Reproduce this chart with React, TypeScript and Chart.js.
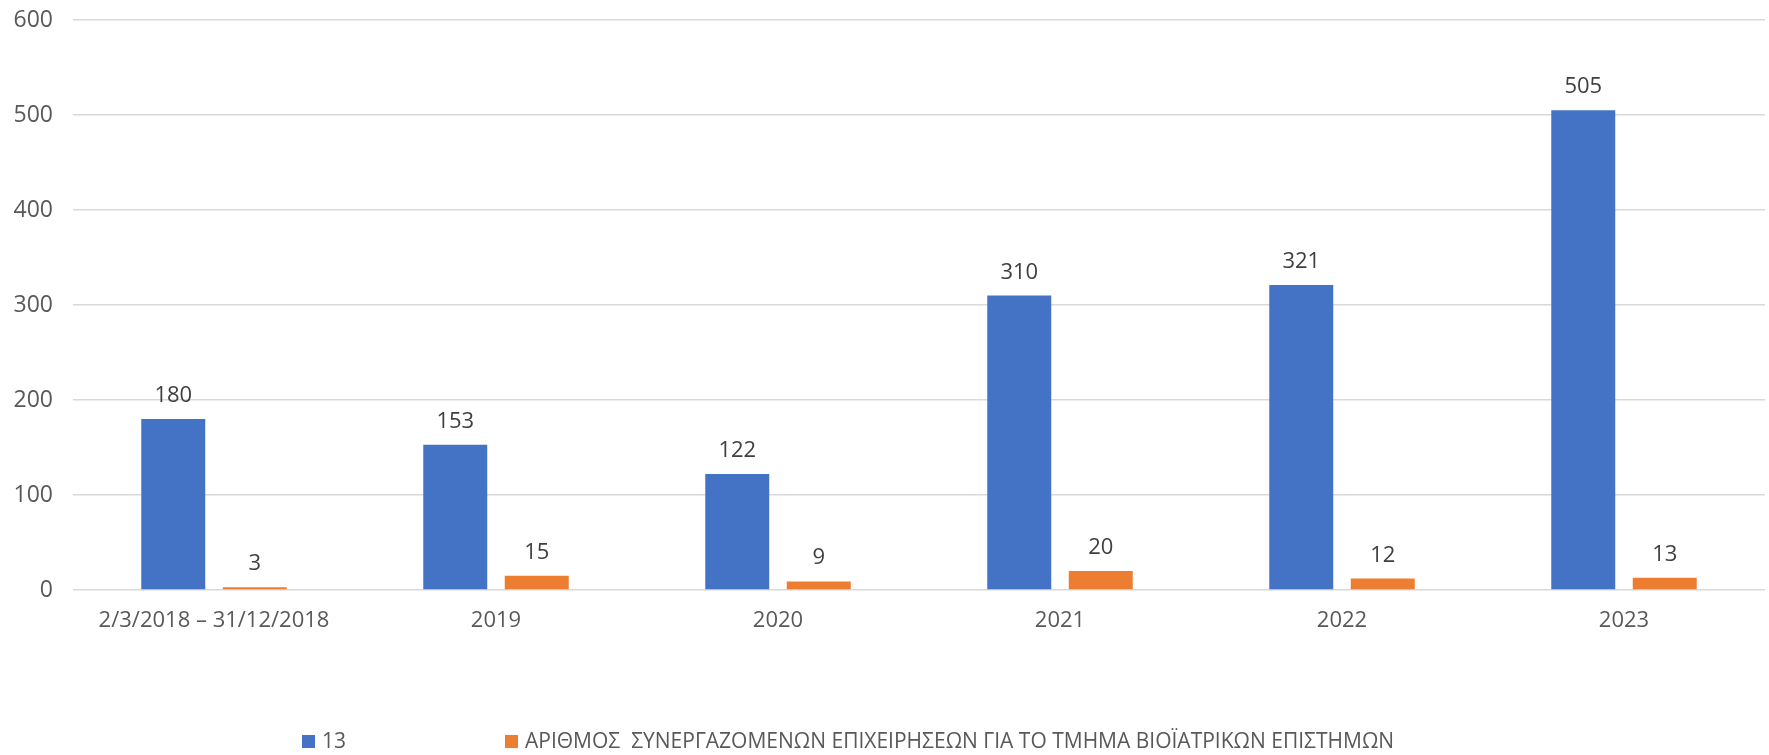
import React, { useEffect, useRef } from "react";
import { Chart, registerables } from "chart.js";

Chart.register(...registerables);

const categories: string[] = ["2/3/2018 – 31/12/2018", "2019", "2020", "2021", "2022", "2023"];
const seriesNames: string[] = ["13", "ΑΡΙΘΜΟΣ  ΣΥΝΕΡΓΑΖΟΜΕΝΩΝ ΕΠΙΧΕΙΡΗΣΕΩΝ ΓΙΑ ΤΟ ΤΜΗΜΑ ΒΙΟΪΑΤΡΙΚΩΝ ΕΠΙΣΤΗΜΩΝ"];
const seriesA: number[] = [180, 153, 122, 310, 321, 505];
const seriesB: number[] = [3, 15, 9, 20, 12, 13];
const yTicks: number[] = [0, 100, 200, 300, 400, 500, 600];
const colors: string[] = ["#4472C4", "#ED7D31"];

const W = 1769;
const H = 755;
const FONT = "'Open Sans', 'DejaVu Sans', sans-serif";

const valueLabels = {
  id: "valueLabels",
  afterDatasetsDraw(chart: any) {
    const ctx = chart.ctx;
    ctx.save();
    ctx.font = `22px ${FONT}`;
    ctx.fillStyle = "#404040";
    ctx.textAlign = "center";
    ctx.textBaseline = "alphabetic";
    chart.data.datasets.forEach((ds: any, i: number) => {
      const meta = chart.getDatasetMeta(i);
      meta.data.forEach((bar: any, j: number) => {
        ctx.fillText(String(ds.data[j]), bar.x, bar.y - 17);
      });
    });
    ctx.restore();
  },
};

const legendXs = [302, 505];
const customLegend = {
  id: "customLegend",
  afterDraw(chart: any) {
    const ctx = chart.ctx;
    ctx.save();
    ctx.font = `21px ${FONT}`;
    ctx.textBaseline = "alphabetic";
    ctx.textAlign = "left";
    chart.data.datasets.forEach((ds: any, i: number) => {
      const x = legendXs[i];
      ctx.fillStyle = ds.backgroundColor;
      ctx.fillRect(x, 735, 13, 13);
      ctx.fillStyle = "#595959";
      ctx.fillText(ds.label, x + 20, 748);
    });
    ctx.restore();
  },
};

export default function App() {
  const ref = useRef<HTMLCanvasElement | null>(null);
  useEffect(() => {
    document.body.style.margin = "0";
    const canvas = ref.current!;
    const chart = new Chart(canvas, {
      type: "bar",
      data: {
        labels: categories,
        datasets: [
          { label: seriesNames[0], data: seriesA, backgroundColor: colors[0], categoryPercentage: 0.578, barPercentage: 0.785 },
          { label: seriesNames[1], data: seriesB, backgroundColor: colors[1], categoryPercentage: 0.578, barPercentage: 0.785 },
        ],
      },
      options: {
        responsive: false,
        animation: false,
        devicePixelRatio: 1,
        layout: { padding: { top: 20, right: 4, left: 0, bottom: 0 } },
        plugins: { legend: { display: false }, tooltip: { enabled: false } },
        scales: {
          x: {
            grid: { display: false, drawTicks: false },
            border: { display: false },
            ticks: { color: "#595959", font: { family: FONT, size: 22 }, padding: 18, maxRotation: 0, autoSkip: false },
            afterFit(scale: any) {
              scale.height = 165;
              scale.paddingLeft = 0;
              scale.paddingRight = 0;
            },
          },
          y: {
            min: 0,
            max: 600,
            afterBuildTicks(scale: any) {
              scale.ticks = yTicks.map((v) => ({ value: v }));
            },
            grid: { color: "#d9d9d9", lineWidth: 1.5, drawTicks: false },
            border: { display: false },
            ticks: { color: "#595959", font: { family: FONT, size: 23 }, padding: 20 },
            afterFit(scale: any) {
              scale.width = 73;
              scale.paddingTop = 0;
              scale.paddingBottom = 0;
            },
          },
        },
      },
      plugins: [valueLabels, customLegend],
    });
    return () => chart.destroy();
  }, []);
  return (
    <div style={{ position: "absolute", left: 0, top: 0, width: W, height: H, background: "#fff" }}>
      <canvas ref={ref} width={W} height={H} style={{ display: "block", width: W, height: H }} />
    </div>
  );
}
